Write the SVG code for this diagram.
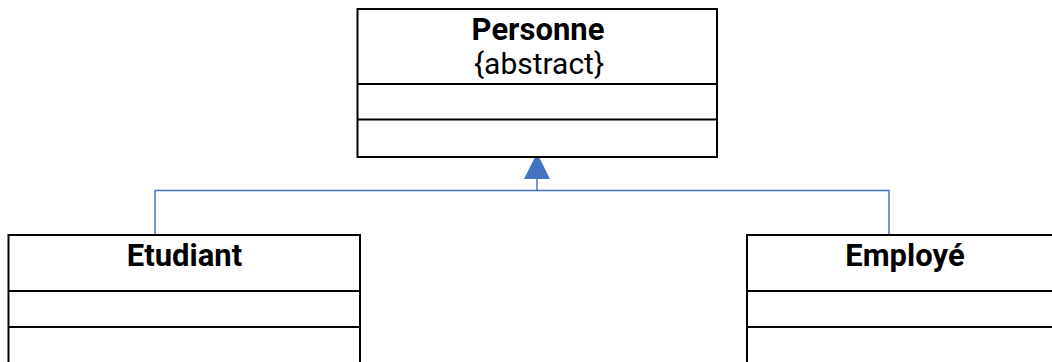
<svg xmlns="http://www.w3.org/2000/svg" width="1052" height="362" viewBox="0 0 1052 362">
  <style>
    .box { fill: #ffffff; stroke: #000000; stroke-width: 2; }
    .div { stroke: #000000; stroke-width: 2; fill: none; }
    .title { font-family: Roboto, "Liberation Sans", sans-serif; font-weight: bold; font-size: 31px; fill: #000000; text-anchor: middle; }
    .sub { font-family: Roboto, "Liberation Sans", sans-serif; font-size: 30px; fill: #000000; text-anchor: middle; }
    .conn { stroke: #4472C4; stroke-width: 1.5; fill: none; }
  </style>
  <rect width="1052" height="362" fill="#ffffff"/>
  <g id="connectors">
    <polyline class="conn" points="155,235 155,190.5 889,190.5 889,235"/>
    <line class="conn" x1="537" y1="190.5" x2="537" y2="178"/>
    <polygon points="537,153 524,179 550,179" fill="#4472C4"/>
  </g>
  <g id="personne">
    <rect class="box" x="357.5" y="9" width="359.5" height="148"/>
    <line class="div" x1="357.5" y1="84" x2="717" y2="84"/>
    <line class="div" x1="357.5" y1="119.5" x2="717" y2="119.5"/>
    <text class="title" x="538" y="40">Personne</text>
    <text class="sub" x="539" y="74">{abstract}</text>
  </g>
  <g id="etudiant">
    <rect class="box" x="8.5" y="235" width="351.5" height="140"/>
    <line class="div" x1="8.5" y1="291" x2="360" y2="291"/>
    <line class="div" x1="8.5" y1="327" x2="360" y2="327"/>
    <text class="title" x="184.5" y="266">Etudiant</text>
  </g>
  <g id="employe">
    <rect class="box" x="747" y="235" width="316" height="140"/>
    <line class="div" x1="747" y1="291" x2="1063" y2="291"/>
    <line class="div" x1="747" y1="327" x2="1063" y2="327"/>
    <text class="title" x="905" y="266">Employé</text>
  </g>
</svg>
